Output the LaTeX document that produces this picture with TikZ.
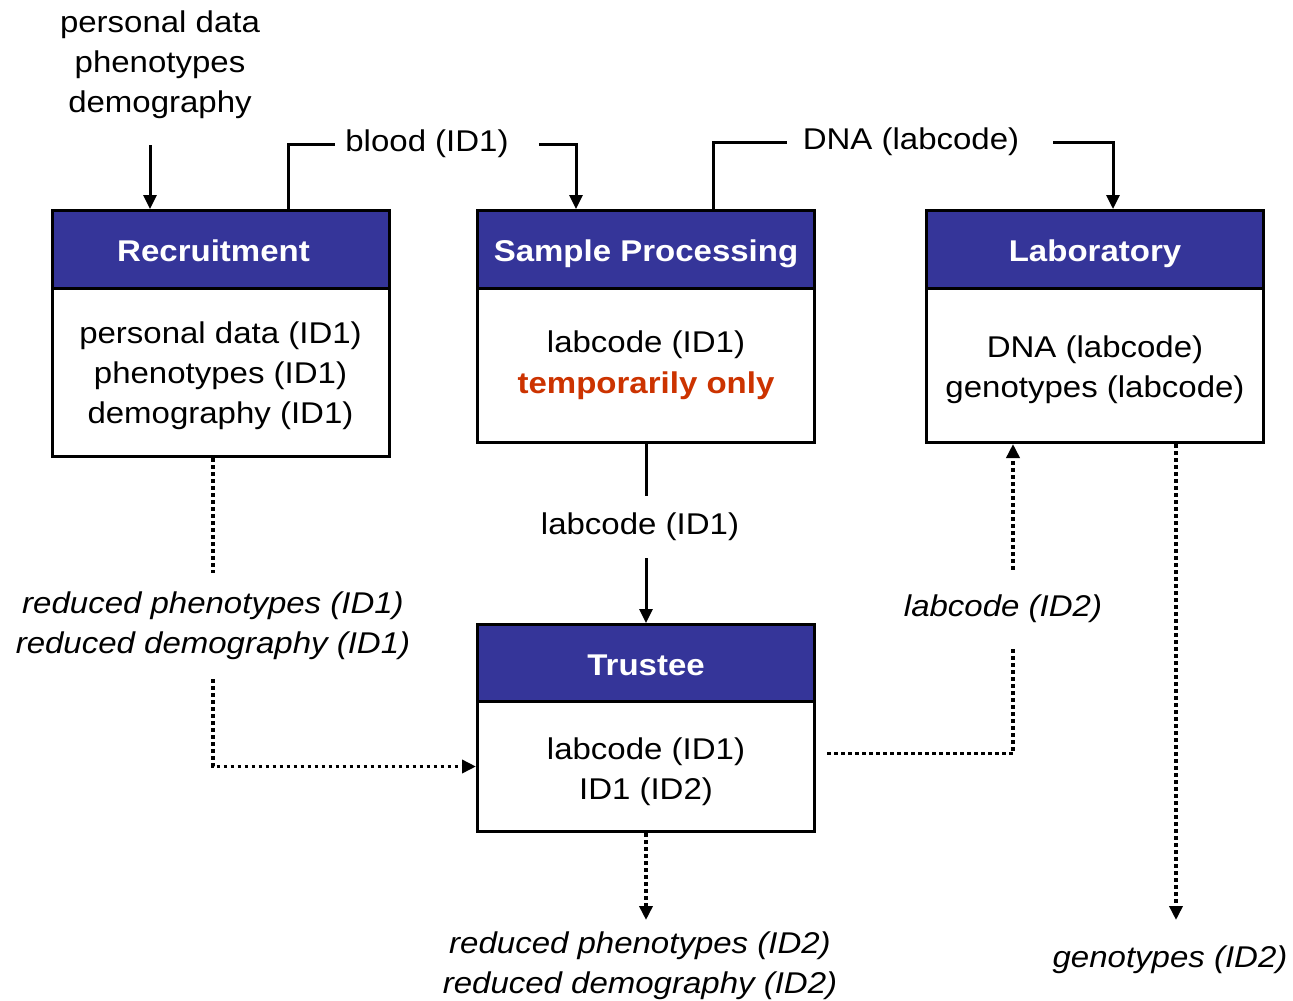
\documentclass[tikz,border=0pt]{standalone}
\usepackage{fontspec}
\setmainfont{Liberation Sans}[FakeStretch=1.1]
\usetikzlibrary{arrows.meta}
\definecolor{hdrblue}{RGB}{53,53,153}
\definecolor{tmpred}{RGB}{204,51,0}
\tikzset{
  bfont/.style={font=\fontsize{30}{40}\selectfont},
  ifont/.style={font=\fontsize{30}{40}\selectfont\itshape},
  hdr/.style={draw=black, line width=3pt, fill=hdrblue, text=white,
    font=\fontsize{30}{38}\selectfont\bfseries, minimum width=337pt,
    minimum height=78pt, inner sep=0pt, anchor=north, text height=24pt, text depth=0pt},
  bodybox/.style={draw=black, line width=3pt, fill=white, minimum width=337pt,
    anchor=north, align=center, inner sep=0pt, font=\fontsize{30}{40}\selectfont},
  lbl/.style={bfont, align=center, inner xsep=10pt, inner ysep=0pt},
  sline/.style={line width=3pt},
  sarr/.style={line width=3pt, -{Triangle[width=13pt,length=14pt]}},
  dline/.style={line width=3.5pt, dash pattern=on 3.5pt off 3.5pt},
  darr/.style={line width=3.5pt, dash pattern=on 3.5pt off 3.5pt, -{Triangle[width=13pt,length=14pt]}},
}
\begin{document}
\begin{tikzpicture}[x=1pt,y=-1pt]
\useasboundingbox (0,0) rectangle (1293,1001);
% boxes
\node[hdr] (rh) at (220.5,209) {\hspace*{-14pt}Recruitment};
\node[bodybox, minimum height=168pt] (rb) at (220.5,287) {\rule{0pt}{29pt}personal data (ID1)\\phenotypes (ID1)\\demography (ID1)};
\node[hdr] (sph) at (646,209) {Sample Processing};
\node[bodybox, minimum height=154pt] (spb) at (646,287) {labcode (ID1)\\[1pt]{\color{tmpred}\fontsize{30}{38}\selectfont\bfseries temporarily only}};
\node[hdr] (labh) at (1095,209) {Laboratory};
\node[bodybox, minimum height=154pt] (labb) at (1095,287) {\rule{0pt}{30pt}DNA (labcode)\\genotypes (labcode)};
\node[hdr, minimum height=77pt] (trh) at (646,623) {Trustee};
\node[bodybox, minimum height=130pt] (trb) at (646,700) {\rule{0pt}{32pt}labcode (ID1)\\ID1 (ID2)};
% labels
\node[lbl] (pd) at (160,65) {personal data\\phenotypes\\demography};
\node[lbl] (blood) at (427,144) {blood (ID1)};
\node[lbl, inner xsep=16pt] (dna) at (911,142) {DNA (labcode)};
\node[lbl, inner ysep=17pt] (lab1) at (640,527) {labcode (ID1)};
\node[ifont, align=center, inner ysep=19pt] (red1) at (213,626) {reduced phenotypes (ID1)\\reduced demography (ID1)};
\node[ifont, align=center, inner ysep=25pt] (lab2) at (1003,609) {labcode (ID2)};
\node[ifont, align=center] (geno) at (1170,960) {genotypes (ID2)};
\node[ifont, align=center] (red2) at (640,966) {reduced phenotypes (ID2)\\reduced demography (ID2)};
\coordinate (pdend) at (150,145);
\coordinate (genoend) at (1176,920);
\coordinate (red2end) at (646,920);
% solid connectors
\draw[sarr] (pdend) -- (pdend |- rh.north);
\draw[sline] ([xshift=67.5pt]rh.north) |- (blood.west);
\draw[sarr] ([xshift=20pt]blood.east) -| ([xshift=-70pt]sph.north);
\draw[sline] ([xshift=67pt]sph.north) |- (dna.west);
\draw[sarr] ([xshift=18pt]dna.east) -| ([xshift=18pt]labh.north);
\draw[sline] (spb.south) -- (spb.south |- lab1.north);
\draw[sarr] (spb.south |- lab1.south) -- (trh.north);
% dotted connectors
\draw[dline] (rb.south -| red1.north) -- (red1.north);
\draw[darr] (red1.south) |- (trb.west);
\draw[dline] ([shift={(11pt,13pt)}]trb.east) -| ([xshift=10pt]lab2.south);
\draw[darr] ([xshift=10pt]lab2.north) -- ([xshift=10pt]lab2.north |- labb.south);
\draw[darr] ([xshift=81pt]labb.south) -- (genoend);
\draw[darr] (trb.south) -- (red2end);
\end{tikzpicture}
\end{document}
